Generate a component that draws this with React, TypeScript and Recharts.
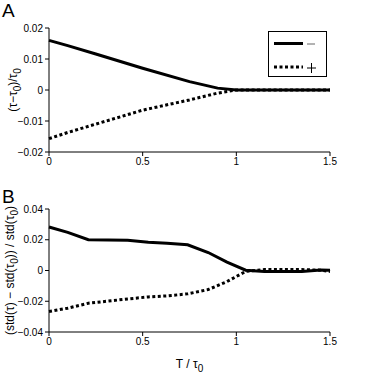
import React from "react";
import { LineChart, Line, XAxis, YAxis, Label } from "recharts";

// panel A: relative change of tau
const xA = [0, 0.1, 0.25, 0.5, 0.75, 0.9, 1.0, 1.25, 1.5];
const minusA = [0.016, 0.0143, 0.0116, 0.007, 0.0027, 0.0006, 0, 0, 0];
const plusA = [-0.0157, -0.0137, -0.011, -0.0065, -0.0032, -0.001, 0, 0, 0];

// panel B: relative change of std(tau)
const xB = [0, 0.1, 0.21, 0.42, 0.53, 0.63, 0.74, 0.85, 0.95, 1.05, 1.15, 1.25, 1.35, 1.45, 1.5];
const minusB = [0.0283, 0.0248, 0.02, 0.0196, 0.0184, 0.0178, 0.0167, 0.0117, 0.0054, 0.0002, -0.0006, -0.0006, -0.0006, 0.0004, 0.0002];
const plusB = [-0.0267, -0.0245, -0.0213, -0.0185, -0.0172, -0.0165, -0.0152, -0.0124, -0.0072, -0.0006, 0.0006, 0.0006, 0.0006, 0.0002, -0.0006];

const xTicks = [0, 0.5, 1, 1.5];
const yTicksA = [-0.02, -0.01, 0, 0.01, 0.02];
const yTicksB = [-0.04, -0.02, 0, 0.02, 0.04];

const FONT = "'Liberation Sans', Arial, sans-serif";

const dataA = xA.map((x, i) => ({ x, minus: minusA[i], plus: plusA[i] }));
const dataB = xB.map((x, i) => ({ x, minus: minusB[i], plus: plusB[i] }));

const fmt = (v: number) => (v < 0 ? "\u2212" + String(-v) : String(v));

const tickStyle = { fontSize: 10, fill: "#000", fontFamily: FONT };
const axisLine = { stroke: "#000", strokeWidth: 1 };

function YLabel({ viewBox, x, parts }: any) {
  const cy = viewBox.y + viewBox.height / 2;
  return (
    <text
      x={x}
      y={cy}
      transform={`rotate(-90, ${x}, ${cy})`}
      textAnchor="middle"
      dominantBaseline="central"
      fontSize={12}
      fontFamily={FONT}
      fill="#000"
    >
      {parts.map((p: any, i: number) =>
        p.sub ? (
          <tspan key={i} fontSize={10} dy={4}>
            {p.t}
          </tspan>
        ) : (
          <tspan key={i} dy={i > 0 && parts[i - 1].sub ? -4 : 0}>
            {p.t}
          </tspan>
        )
      )}
    </text>
  );
}

function XLabel({ viewBox }: any) {
  const cx = viewBox.x + viewBox.width / 2;
  return (
    <text x={cx} y={178} textAnchor="middle" fontSize={12} fontFamily={FONT} fill="#000">
      <tspan>T / τ</tspan>
      <tspan fontSize={10} dy={4}>0</tspan>
    </text>
  );
}

const labelA = [
  { t: "(τ−τ" },
  { t: "0", sub: true },
  { t: ")/τ" },
  { t: "0", sub: true },
];
const labelB = [
  { t: "(std(τ) − std(τ" },
  { t: "0", sub: true },
  { t: ")) / std(τ" },
  { t: "0", sub: true },
  { t: ")" },
];

export default function App() {
  return (
    <div style={{ position: "absolute", left: 0, top: 0, width: 365, height: 382, background: "#fff", fontFamily: FONT }}>
      <div style={{ position: "absolute", left: 2, top: 1, fontSize: 19, lineHeight: "20px", fontFamily: FONT }}>A</div>
      <div style={{ position: "absolute", left: 2, top: 187, fontSize: 19, lineHeight: "20px", fontFamily: FONT }}>B</div>

      <div style={{ position: "absolute", left: 0, top: 0 }}>
        <LineChart width={365} height={190} data={dataA} margin={{ top: 28, right: 35, left: 0, bottom: 0 }}>
          <XAxis
            dataKey="x"
            type="number"
            domain={[0, 1.5]}
            ticks={xTicks}
            tick={tickStyle}
            tickLine={axisLine}
            axisLine={axisLine}
            tickSize={4}
            height={38}
          />
          <YAxis
            type="number"
            domain={[-0.02, 0.02]}
            ticks={yTicksA}
            tickFormatter={fmt}
            tick={tickStyle}
            tickLine={axisLine}
            axisLine={axisLine}
            tickSize={4}
            width={49}
          >
            <Label content={(p: any) => <YLabel {...p} x={13} parts={labelA} />} />
          </YAxis>
          <Line dataKey="minus" type="linear" stroke="#000" strokeWidth={3} dot={false} isAnimationActive={false} />
          <Line dataKey="plus" type="linear" stroke="#000" strokeWidth={3} strokeDasharray="3 2.5" dot={false} isAnimationActive={false} />
        </LineChart>
      </div>

      <svg style={{ position: "absolute", left: 268, top: 31 }} width={60} height={47}>
        <rect x={0.5} y={0.5} width={58} height={45} fill="#fff" stroke="#000" strokeWidth={1} />
        <line x1={6} y1={12.5} x2={35} y2={12.5} stroke="#000" strokeWidth={3} />
        <line x1={39} y1={13} x2={47} y2={13} stroke="#666" strokeWidth={1} />
        <line x1={6} y1={36} x2={35} y2={36} stroke="#000" strokeWidth={3} strokeDasharray="3 2.5" />
        <line x1={39} y1={37} x2={48} y2={37} stroke="#000" strokeWidth={1} />
        <line x1={43.5} y1={32} x2={43.5} y2={42} stroke="#000" strokeWidth={1} />
      </svg>

      <div style={{ position: "absolute", left: 0, top: 190 }}>
        <LineChart width={365} height={192} data={dataB} margin={{ top: 19, right: 35, left: 0, bottom: 0 }}>
          <XAxis
            dataKey="x"
            type="number"
            domain={[0, 1.5]}
            ticks={xTicks}
            tick={tickStyle}
            tickLine={axisLine}
            axisLine={axisLine}
            tickSize={4}
            height={50}
          >
            <Label content={(p: any) => <XLabel {...p} />} />
          </XAxis>
          <YAxis
            type="number"
            domain={[-0.04, 0.04]}
            ticks={yTicksB}
            tickFormatter={fmt}
            tick={tickStyle}
            tickLine={axisLine}
            axisLine={axisLine}
            tickSize={4}
            width={49}
          >
            <Label content={(p: any) => <YLabel {...p} x={10} parts={labelB} />} />
          </YAxis>
          <Line dataKey="minus" type="linear" stroke="#000" strokeWidth={3} dot={false} isAnimationActive={false} />
          <Line dataKey="plus" type="linear" stroke="#000" strokeWidth={3} strokeDasharray="3 2.5" dot={false} isAnimationActive={false} />
        </LineChart>
      </div>
    </div>
  );
}
